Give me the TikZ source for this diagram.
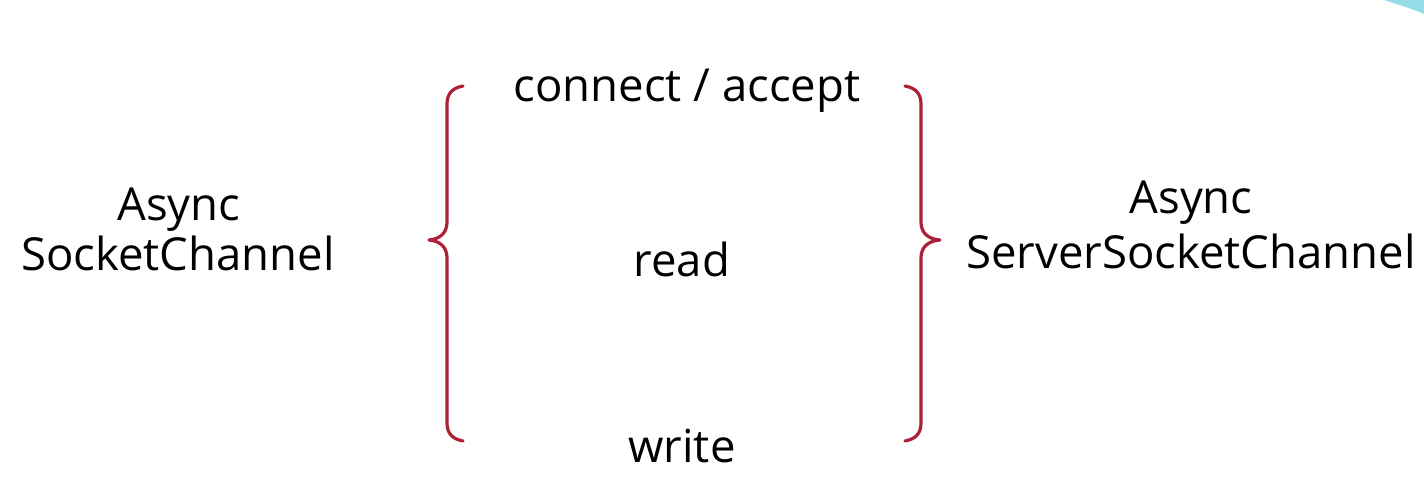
\documentclass[tikz,border=0pt]{standalone}
\usepackage{fontspec}
\setmainfont{Open Sans}
\definecolor{brace}{RGB}{172,32,56}
\definecolor{deco}{RGB}{150,220,232}
\tikzset{
  lbl/.style={font=\fontsize{45.5}{50}\selectfont, text=black, inner sep=0pt, align=center},
  bracepath/.style={draw=brace, line width=3.2pt, line cap=round, line join=round}
}
\begin{document}
\begin{tikzpicture}[x=1pt,y=-1pt]
\useasboundingbox[fill=white] (0,0) rectangle (1424,478);
% decorative corner
\fill[deco] (1384,0) .. controls (1400,5) and (1412,9) .. (1424,14) -- (1424,0) -- cycle;
% labels
\node[lbl, anchor=base] (conn) at (687,102) {connect / accept};
\node[lbl, anchor=base] (read) at (682,277) {read};
\node[lbl, anchor=base] (write) at (682,462) {write};
\node[lbl, anchor=base] (lasync) at (179,221) {Async};
\node[lbl, anchor=base] (lsock) at (178,271) {SocketChannel};
\node[lbl, anchor=base] (rasync) at (1191,214) {Async};
\node[lbl, anchor=base] (rsock) at (1191,269) {ServerSocketChannel};
% braces
\coordinate (lt) at (463,86);
\coordinate (lb) at (463,441);
\coordinate (ltip) at (429,240);
\draw[bracepath] (lt) .. controls (452,88) and (447,94) .. (447,104)
  -- (447,222) .. controls (447,233) and (440,239) .. (ltip)
  .. controls (440,241) and (447,247) .. (447,258)
  -- (447,423) .. controls (447,433) and (452,439) .. (lb);
\coordinate (rt) at (905,86);
\coordinate (rb) at (905,441);
\coordinate (rtip) at (940,240);
\draw[bracepath] (rt) .. controls (916,88) and (921,94) .. (921,104)
  -- (921,222) .. controls (921,233) and (928,239) .. (rtip)
  .. controls (928,241) and (921,247) .. (921,258)
  -- (921,423) .. controls (921,433) and (916,439) .. (rb);
\end{tikzpicture}
\end{document}
